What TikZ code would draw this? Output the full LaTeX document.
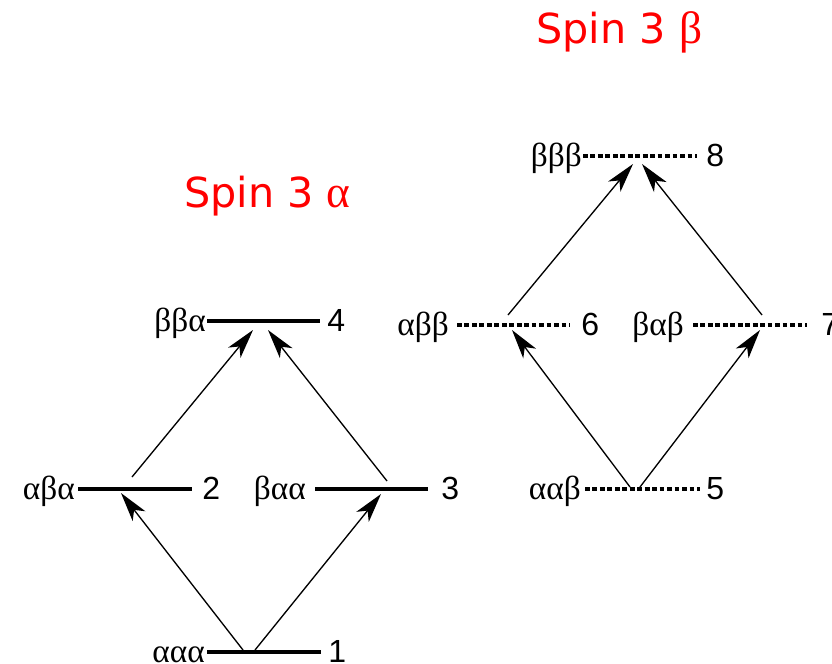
\documentclass[tikz,border=0pt]{standalone}
\usepackage{fontspec}
\setmainfont{Liberation Serif}
\newfontfamily\titlefont{DejaVu Sans}
\newfontfamily\digitfont{Liberation Sans}
\usetikzlibrary{arrows.meta}
\tikzset{
  solidlevel/.style={line width=3pt},
  dashlevel/.style={line width=2.4pt, dash pattern=on 3.6pt off 2pt},
  statelabel/.style={anchor=base east, inner sep=0pt, font=\fontsize{25}{27}\selectfont},
  numlabel/.style={anchor=base west, inner sep=0pt, font=\digitfont\fontsize{24}{26}\selectfont},
  transition/.style={line width=1pt, -{Stealth[length=22pt, width=12pt, inset=6pt]}},
  spintitle/.style={anchor=base west, inner sep=0pt, text=red, font=\titlefont\fontsize{31}{34}\selectfont}
}
\begin{document}
\begin{tikzpicture}[x=0.75pt, y=-0.75pt]
\useasboundingbox (0,0) rectangle (832,664);

% ---- spin 3 alpha manifold (solid levels) ----
\coordinate (L1w) at (207,652); \coordinate (L1e) at (321,652);
\coordinate (L2w) at (78,489);  \coordinate (L2e) at (192,489);
\coordinate (L3w) at (315,489); \coordinate (L3e) at (428,489);
\coordinate (L4w) at (207,321); \coordinate (L4e) at (320,321);
\draw[solidlevel] (L1w) -- (L1e);
\draw[solidlevel] (L2w) -- (L2e);
\draw[solidlevel] (L3w) -- (L3e);
\draw[solidlevel] (L4w) -- (L4e);

\node[statelabel] (s1) at (205,662) {ααα};
\node[numlabel]   (n1) at (328,662) {1};
\node[statelabel] (s2) at (75,499)  {αβα};
\node[numlabel]   (n2) at (202,499) {2};
\node[statelabel] (s3) at (306,499) {βαα};
\node[numlabel]   (n3) at (441,499) {3};
\node[statelabel] (s4) at (206,331) {ββα};
\node[numlabel]   (n4) at (327,331) {4};

% ---- spin 3 beta manifold (dashed levels) ----
\coordinate (L5w) at (585,489); \coordinate (L5e) at (700,489);
\coordinate (L6w) at (457,325); \coordinate (L6e) at (570,325);
\coordinate (L7w) at (693,325); \coordinate (L7e) at (807,325);
\coordinate (L8w) at (583,156); \coordinate (L8e) at (697,156);
\draw[dashlevel] (L5w) -- (L5e);
\draw[dashlevel] (L6w) -- (L6e);
\draw[dashlevel] (L7w) -- (L7e);
\draw[dashlevel] (L8w) -- (L8e);

\node[statelabel] (s5) at (581,499) {ααβ};
\node[numlabel]   (n5) at (706,499) {5};
\node[statelabel] (s6) at (449,335) {αββ};
\node[numlabel]   (n6) at (581,335) {6};
\node[statelabel] (s7) at (684,335) {βαβ};
\node[numlabel]   (n7) at (821,335) {7};
\node[statelabel] (s8) at (582,166) {βββ};
\node[numlabel]   (n8) at (706,166) {8};

% ---- transition end points ----
\coordinate (a12) at (243,650); \coordinate (b12) at (121,493);
\coordinate (a13) at (255,650); \coordinate (b13) at (381,494);
\coordinate (a24) at (132,477); \coordinate (b24) at (253,330);
\coordinate (a34) at (387,481); \coordinate (b34) at (268,330);
\coordinate (a56) at (630,487); \coordinate (b56) at (512,330);
\coordinate (a57) at (640,487); \coordinate (b57) at (760,330);
\coordinate (a68) at (508,315); \coordinate (b68) at (633,164);
\coordinate (a78) at (762,315); \coordinate (b78) at (642,164);

\draw[transition] (a12) -- (b12);
\draw[transition] (a13) -- (b13);
\draw[transition] (a24) -- (b24);
\draw[transition] (a34) -- (b34);
\draw[transition] (a56) -- (b56);
\draw[transition] (a57) -- (b57);
\draw[transition] (a68) -- (b68);
\draw[transition] (a78) -- (b78);

% ---- titles ----
\node[spintitle] (ta) at (184,207) {Spin 3 {\rmfamily\fontsize{34}{36}\selectfont α}};
\node[spintitle] (tb) at (536,43)  {Spin 3 {\rmfamily\fontsize{34}{36}\selectfont β}};
\end{tikzpicture}
\end{document}
